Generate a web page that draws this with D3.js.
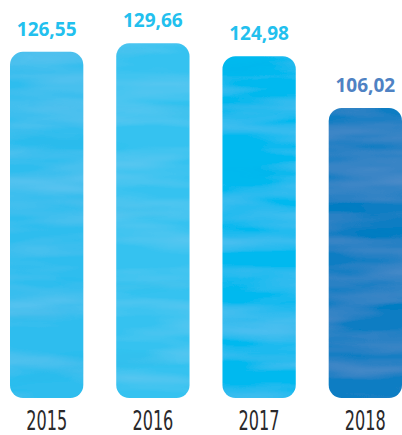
<!DOCTYPE html>
<html>
<head>
<meta charset="utf-8">
<script src="https://cdn.jsdelivr.net/npm/d3@7"></script>
<style>
  html, body { margin: 0; padding: 0; background: #fff; }
  svg { display: block; }
</style>
</head>
<body>
<div id="chart"></div>
<script>
const years = ['2015', '2016', '2017', '2018']
const values = [126.55, 129.66, 124.98, 106.02]
const barColors = ['#2dbdee', '#36c2f0', '#06b9ef', '#0a7dc3']
const labelColors = ['#22c0ee', '#22c0ee', '#22c0ee', '#4f82c3']

const fullWidth = 402
const fullHeight = 435
const baseY = 398

const svg = d3.select('#chart')
  .append('svg')
  .attr('width', fullWidth)
  .attr('height', fullHeight)

// faint watercolor streaks
const defs = svg.append('defs')
const wc = defs.append('filter')
  .attr('id', 'wc')
  .attr('x', 0).attr('y', 0).attr('width', 1).attr('height', 1)
wc.append('feTurbulence')
  .attr('type', 'fractalNoise')
  .attr('baseFrequency', '0.006 0.04')
  .attr('numOctaves', 3)
  .attr('seed', 7)
  .attr('result', 'noise')
wc.append('feColorMatrix')
  .attr('in', 'noise')
  .attr('type', 'matrix')
  .attr('values', '0 0 0 0 1  0 0 0 0 1  0 0 0 0 1  0.16 0 0 0 -0.06')
  .attr('result', 'light')
wc.append('feComposite')
  .attr('in', 'light').attr('in2', 'SourceGraphic')
  .attr('operator', 'in').attr('result', 'lightIn')
wc.append('feColorMatrix')
  .attr('in', 'noise')
  .attr('type', 'matrix')
  .attr('values', '0 0 0 0 0  0 0 0 0 0.25  0 0 0 0 0.5  0 -0.2 0 0 0.08')
  .attr('result', 'dark')
wc.append('feComposite')
  .attr('in', 'dark').attr('in2', 'SourceGraphic')
  .attr('operator', 'in').attr('result', 'darkIn')
const merge = wc.append('feMerge')
merge.append('feMergeNode').attr('in', 'SourceGraphic')
merge.append('feMergeNode').attr('in', 'lightIn')
merge.append('feMergeNode').attr('in', 'darkIn')

const x = d3.scaleBand()
  .domain(years)
  .range([10, 402])
  .paddingInner(0.31)
  .paddingOuter(0)

const y = d3.scaleLinear()
  .domain([0, 145.5])
  .range([baseY, 0])

const data = years.map((yr, i) => ({ year: yr, value: values[i], color: barColors[i], label: labelColors[i] }))

const fmt = v => d3.format('.2f')(v).replace('.', ',')

const bars = svg.selectAll('.bar')
  .data(data)
  .enter().append('g')
  .attr('class', 'bar')

bars.append('rect')
  .attr('x', d => x(d.year))
  .attr('y', d => y(d.value))
  .attr('width', x.bandwidth())
  .attr('height', d => baseY - y(d.value))
  .attr('rx', 13)
  .attr('ry', 13)
  .attr('fill', d => d.color)
  .attr('filter', 'url(#wc)')

bars.append('text')
  .attr('x', d => x(d.year) + x.bandwidth() / 2)
  .attr('y', d => y(d.value) - 16)
  .attr('text-anchor', 'middle')
  .attr('font-family', '"Open Sans", sans-serif')
  .attr('font-weight', 700)
  .attr('font-size', 19)
  .attr('fill', d => d.label)
  .text(d => fmt(d.value))

bars.append('text')
  .attr('x', d => x(d.year) + x.bandwidth() / 2)
  .attr('y', 430)
  .attr('text-anchor', 'middle')
  .attr('font-family', '"Liberation Sans Narrow", "DejaVu Sans Condensed", sans-serif')
  .attr('font-size', 27)
  .attr('fill', '#2a292b')
  .attr('textLength', 41)
  .attr('lengthAdjust', 'spacingAndGlyphs')
  .text(d => d.year)
</script>
</body>
</html>
